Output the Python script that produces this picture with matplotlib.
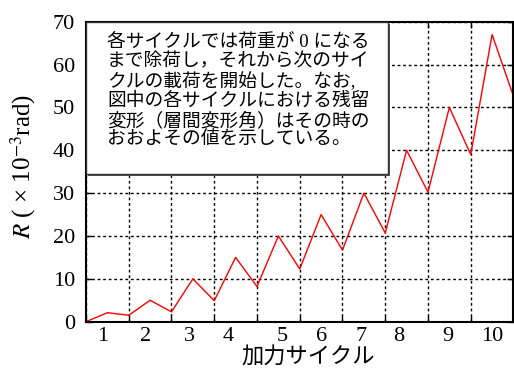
import numpy as np
import matplotlib
matplotlib.use('Agg')
import matplotlib.pyplot as plt
from matplotlib.patches import Rectangle

plt.rcParams['font.family'] = ['Liberation Serif', 'Noto Sans CJK JP']
plt.rcParams['mathtext.fontset'] = 'stix'

# load history: peaks at mid-cycle, residual at end of each cycle
half_cycle = [0, 0.5, 1, 1.5, 2, 2.5, 3, 3.5, 4, 4.5, 5,
              5.5, 6, 6.5, 7, 7.5, 8, 8.5, 9, 9.5, 10]
drift = [0, 2.1, 1.5, 5.0, 2.3, 10.0, 4.9, 15.0, 8.2, 20.0, 12.3,
         25.0, 16.7, 30.0, 20.7, 40.0, 30.2, 50.0, 39.0, 67.0, 52.6]

grid_x = [0, 1, 2, 3, 4, 5, 6, 7, 8, 9, 10]
label_x = [0.40, 1.40, 2.43, 3.32, 4.60, 5.51, 6.43, 7.31, 8.46, 9.51]
label_txt = ['1', '2', '3', '4', '5', '6', '7', '8', '9', '10']
y_ticks = [0, 10, 20, 30, 40, 50, 60, 70]

note = ('各サイクルでは荷重が 0 になる\n'
        'まで除荷し，それから次のサイ\n'
        'クルの載荷を開始した。なお,\n'
        '図中の各サイクルにおける残留\n'
        '変形（層間変形角）はその時の\n'
        'おおよその値を示している。')

fig = plt.figure(figsize=(5.14, 3.69), dpi=100)
ax = fig.add_axes([0.1673, 0.1282, 0.8317, 0.813])

ax.plot(half_cycle, drift, color='red', lw=1.0, zorder=2)

ax.set_xlim(0, 10)
ax.set_ylim(0, 70)
ax.set_xticks(grid_x)
ax.set_xticklabels([])
ax.set_xticks(label_x, minor=True)
ax.set_xticklabels(label_txt, minor=True)
ax.set_yticks(y_ticks)
ax.tick_params(which='major', direction='in', length=4, width=1,
               top=True, right=True, labelsize=16, pad=8)
ax.tick_params(which='minor', length=0, labelsize=16, pad=4)
ax.grid(True, which='major', color='black', ls=(0, (2, 2)), lw=1.0)
for sp in ax.spines.values():
    sp.set_linestyle((0, (2, 1)))
    sp.set_linewidth(1.5)

ax.set_ylabel('$R$ ( × 10$^{-3}$rad)', fontsize=18)
ax.yaxis.set_label_coords(-0.113, 0.516)
ax.set_xlabel('加力サイクル', fontsize=16)
ax.xaxis.set_label_coords(0.52, -0.085)

# note box with drop shadow
bx, by, bw, bh = 0.0, 0.492, 0.706, 0.508
ax.add_patch(Rectangle((bx + 0.005, by - 0.008), bw, bh, transform=ax.transAxes,
                       facecolor='#555555', edgecolor='none', zorder=3, clip_on=False))
ax.add_patch(Rectangle((bx, by), bw, bh, transform=ax.transAxes,
                       facecolor='white', edgecolor='#333333', lw=1.0, zorder=4, clip_on=False))
ax.text(0.049, 0.96, note, transform=ax.transAxes, fontsize=13.5,
        va='top', ha='left', linespacing=1.13, zorder=5)

fig.savefig('out.png', dpi=100)
